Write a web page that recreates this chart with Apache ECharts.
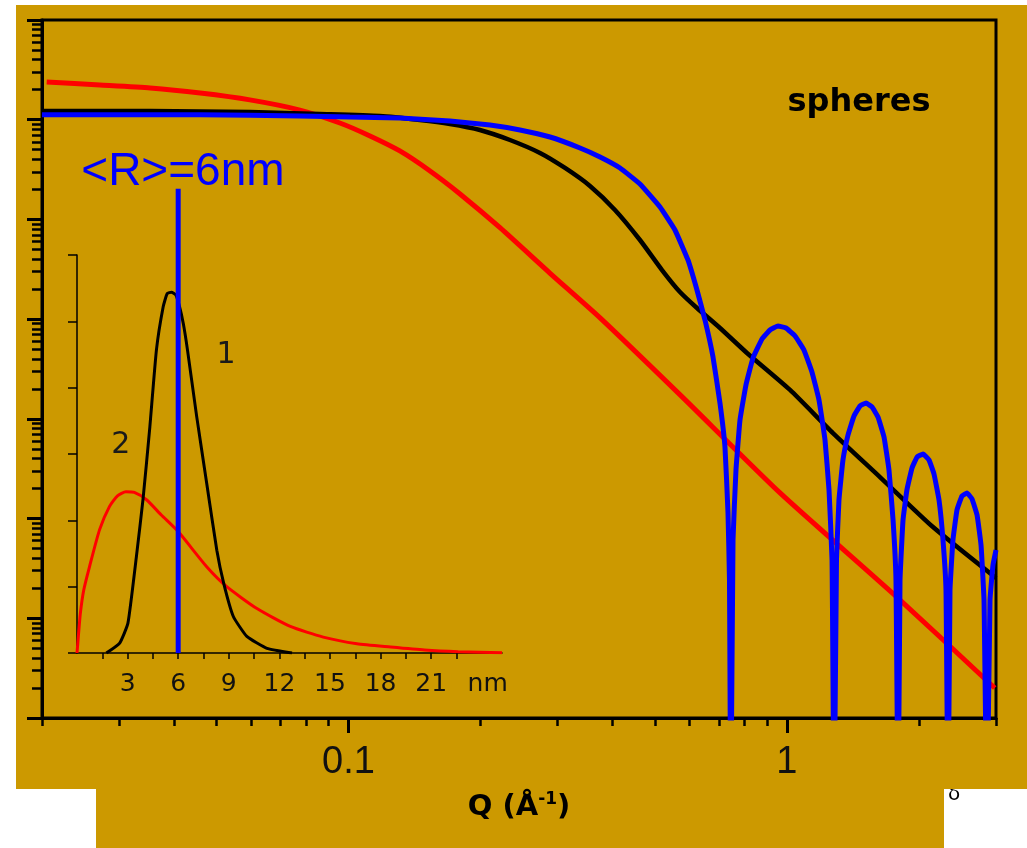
<!DOCTYPE html>
<html><head><meta charset="utf-8">
<script src="https://cdn.jsdelivr.net/npm/echarts@6/dist/echarts.min.js"></script>
<style>html,body{margin:0;padding:0;background:#fff;}#c{width:1027px;height:848px;}</style>
</head><body><div id="c"></div>
<script>
// ---- main scattering curves: [Q (1/Å), I(Q)] ----
const redCurve = [
  [0.0205, 2.39], [0.0271, 2.23], [0.0353, 2.08], [0.0459, 1.85], [0.0596, 1.58],
  [0.0775, 1.25], [0.0956, 0.927], [0.112, 0.687], [0.131, 0.486], [0.1535, 0.306],
  [0.1797, 0.180], [0.222, 0.0821], [0.288, 0.0290], [0.375, 0.0103], [0.571, 0.00174],
  [0.965, 0.000181], [1.78, 0.0000164], [2.98, 0.0000020]
];
const blackCurve = [
  [0.02, 1.224], [0.0353, 1.22], [0.0596, 1.196], [0.0861, 1.142], [0.118, 1.09],
  [0.1456, 0.994], [0.1705, 0.906], [0.1995, 0.789], [0.2336, 0.626], [0.2735, 0.464],
  [0.3119, 0.328], [0.3556, 0.2165], [0.4055, 0.1244], [0.4624, 0.0622], [0.5191, 0.0311],
  [0.5705, 0.01873], [0.6238, 0.01294], [0.7039, 0.00815], [0.811, 0.00458], [1.017, 0.00195],
  [1.274, 0.000721], [1.631, 0.000261], [2.155, 0.0000823], [3.0, 0.0000254]
];
const blueCurve = [
  [0.02, 1.12], [0.0459, 1.12], [0.0775, 1.09], [0.1008, 1.065], [0.1311, 1.041],
  [0.1705, 0.971], [0.2103, 0.885], [0.2462, 0.789], [0.2883, 0.671], [0.3375, 0.521],
  [0.3749, 0.423], [0.4164, 0.328], [0.4624, 0.2267], [0.5137, 0.1333], [0.5557, 0.0784],
  [0.5949, 0.0392], [0.6238, 0.0196], [0.6506, 0.0098], [0.6786, 0.00417], [0.7039, 0.00144],
  [0.7226, 0.000522], [0.7342, 0.000114], [0.7399, 0.0000242], [0.745, 1e-7],
  [0.7538, 0.000061], [0.7656, 0.000307], [0.7819, 0.000974], [0.8068, 0.00219], [0.8372, 0.00408],
  [0.8777, 0.00632], [0.9154, 0.00778], [0.9546, 0.00854], [0.9956, 0.00815], [1.044, 0.00678],
  [1.094, 0.00491], [1.141, 0.00295], [1.184, 0.001546], [1.222, 0.000614], [1.248, 0.0001935],
  [1.268, 0.0000384], [1.282, 1e-7],
  [1.298, 0.0000384], [1.315, 0.0001536], [1.343, 0.000387], [1.379, 0.000689], [1.423, 0.001069],
  [1.469, 0.001346], [1.516, 0.00144], [1.564, 0.001315], [1.614, 0.001044], [1.666, 0.000658],
  [1.710, 0.000307], [1.747, 0.0000967], [1.774, 0.0000242], [1.794, 1e-7],
  [1.812, 0.0000242], [1.841, 0.0000967], [1.879, 0.0001935], [1.930, 0.000322], [1.982, 0.000415],
  [2.045, 0.000444], [2.110, 0.000387], [2.166, 0.00028], [2.224, 0.0001536], [2.271, 0.000061],
  [2.307, 0.0000192], [2.332, 1e-7],
  [2.356, 0.0000192], [2.393, 0.000061], [2.444, 0.0001219], [2.509, 0.0001684], [2.576, 0.0001805],
  [2.645, 0.0001572], [2.716, 0.0001086], [2.773, 0.0000543], [2.817, 0.00001526], [2.86, 1e-7],
  [2.907, 0.00001526], [2.953, 0.0000342], [3.0, 0.0000484]
];
// ---- inset size distributions: [R (nm), P(R)] ----
const insetRed = [
  [0, 0], [0.08, 0.25], [0.2, 0.6], [0.4, 0.95], [0.74, 1.30], [1.34, 1.86], [1.93, 2.21],
  [2.4, 2.37], [2.9, 2.43], [3.4, 2.42], [4.12, 2.31], [5.0, 2.08], [6.0, 1.83], [7.69, 1.30],
  [8.88, 1.0], [10.67, 0.67], [12.65, 0.40], [14.6, 0.24], [16.6, 0.14], [18.6, 0.09],
  [20.6, 0.045], [22.6, 0.02], [25.2, 0.005]
];
const insetBlack = [
  [1.74, 0], [2.53, 0.15], [3.02, 0.45], [3.52, 1.45], [3.92, 2.33], [4.32, 3.41], [4.71, 4.57],
  [5.11, 5.22], [5.35, 5.42], [5.6, 5.44], [5.85, 5.4], [6.05, 5.25], [6.3, 4.97], [6.55, 4.57],
  [7.1, 3.56], [7.69, 2.56], [8.29, 1.55], [8.7, 1.05], [9.27, 0.55], [10.07, 0.25],
  [11.26, 0.07], [12.75, 0.0]
];
const meanRadius = [[6, 0], [6, 7]];
const meanLabel = ['<R>=6nm'];
const curveLabels = [['1', 8.84, 4.49], ['2', 2.59, 3.14]];
// ---- ticks ----
const xMajorTicks = [0.1, 1];
const xMinorTicks = [0.02, 0.03, 0.04, 0.05, 0.06, 0.07, 0.08, 0.09, 0.2, 0.3, 0.4, 0.5, 0.6, 0.7, 0.8, 0.9, 2, 3];
const yMajorTicks = [1e-6, 1e-5, 1e-4, 1e-3, 1e-2, 1e-1, 1, 10];
const yMinorTicks = [];
for (let d = -6; d < 1; d++) for (let m = 2; m <= 9; m++) yMinorTicks.push(+(m * Math.pow(10, d)).toPrecision(3));
const insetTicks = [1.5, 3, 4.5, 6, 7.5, 9, 10.5, 12, 13.5, 15, 16.5, 18, 19.5, 21, 22.5];
const insetLabels = [3, 6, 9, 12, 15, 18, 21];
const insetUnitAt = 24.35;

const GOLD = '#CC9900';
const ARIAL = "'Liberation Sans', Arial, sans-serif";
const DJ = "'DejaVu Sans', sans-serif";

const chart = echarts.init(document.getElementById('c'), null, {renderer: 'canvas'});
const option = {
  backgroundColor: '#ffffff',
  animation: false,
  graphic: [
    {type: 'text', x: 954, y: 795, z: -30, silent: true,
     style: {text: 'δ', fontSize: 20, fontFamily: DJ, fill: '#000', align: 'center', verticalAlign: 'middle'}},
    {type: 'rect', z: -20, silent: true, shape: {x: 16, y: 5, width: 1011, height: 784}, style: {fill: GOLD}},
    {type: 'rect', z: -20, silent: true, shape: {x: 96, y: 788, width: 848, height: 60}, style: {fill: GOLD}},
    {type: 'text', x: 859, y: 103, z: 10, silent: true,
     style: {text: 'spheres', fontSize: 32, fontWeight: 'bold', fontFamily: DJ, fill: '#000', align: 'center', verticalAlign: 'middle'}}
  ],
  grid: [
    {left: 42, top: 20, width: 954, height: 698, show: true, borderColor: '#000', borderWidth: 3, backgroundColor: 'transparent'},
    {left: 77, top: 255, width: 425, height: 398, show: false}
  ],
  xAxis: [
    {type: 'log', gridIndex: 0, min: 0.02, max: 3, logBase: 10, position: 'bottom',
     axisLine: {show: true, lineStyle: {color: '#000', width: 3}},
     axisTick: {show: true, customValues: xMajorTicks, length: 15, lineStyle: {color: '#000', width: 3}},
     axisLabel: {show: true, customValues: xMajorTicks, formatter: v => String(+v.toPrecision(3)),
       fontSize: 38, fontFamily: ARIAL, color: '#111', margin: 26},
     splitLine: {show: false}, minorTick: {show: false},
     name: '{b|Q (Å}{s|-1}{b|)}', nameLocation: 'middle', nameGap: 73,
     nameTextStyle: {rich: {
       b: {fontSize: 29, fontWeight: 'bold', fontFamily: DJ, color: '#000', lineHeight: 32},
       s: {fontSize: 17, fontWeight: 'bold', fontFamily: DJ, color: '#000', verticalAlign: 'top', lineHeight: 18}
     }}},
    {type: 'log', gridIndex: 0, min: 0.02, max: 3, logBase: 10, position: 'bottom',
     axisLine: {show: false},
     axisTick: {show: true, customValues: xMinorTicks, length: 8, lineStyle: {color: '#000', width: 2.5}},
     axisLabel: {show: false}, splitLine: {show: false}},
    {type: 'value', gridIndex: 1, min: 0, max: 25.2,
     axisLine: {show: true, onZero: false, lineStyle: {color: '#000', width: 1.5}},
     axisTick: {show: true, customValues: insetTicks, length: 6, lineStyle: {color: '#000', width: 1.5}},
     axisLabel: {show: true, customValues: insetLabels.concat([insetUnitAt]),
       formatter: v => (v > 23 ? 'nm' : String(v)), fontSize: 25, fontFamily: DJ, color: '#111', margin: 19},
     splitLine: {show: false}}
  ],
  yAxis: [
    {type: 'log', gridIndex: 0, min: 1e-6, max: 10, logBase: 10,
     axisLine: {show: true, lineStyle: {color: '#000', width: 3}},
     axisTick: {show: true, customValues: yMajorTicks, length: 15, lineStyle: {color: '#000', width: 3}},
     axisLabel: {show: false}, splitLine: {show: false}},
    {type: 'log', gridIndex: 0, min: 1e-6, max: 10, logBase: 10, position: 'left',
     axisLine: {show: false},
     axisTick: {show: true, customValues: yMinorTicks, length: 10, lineStyle: {color: '#000', width: 2.5}},
     axisLabel: {show: false}, splitLine: {show: false}},
    {type: 'value', gridIndex: 1, min: 0, max: 6, interval: 1,
     axisLine: {show: true, onZero: false, lineStyle: {color: '#000', width: 1.5}},
     axisTick: {show: true, length: 9, lineStyle: {color: '#000', width: 1.5}},
     axisLabel: {show: false}, splitLine: {show: false}}
  ],
  series: [
    {type: 'line', xAxisIndex: 0, yAxisIndex: 0, data: redCurve, showSymbol: false, symbol: 'none',
     smooth: 0.2, lineStyle: {color: '#FF0000', width: 5}, z: 3},
    {type: 'line', xAxisIndex: 0, yAxisIndex: 0, data: blackCurve, showSymbol: false, symbol: 'none',
     smooth: 0.2, lineStyle: {color: '#000000', width: 4.5}, z: 4},
    {type: 'line', xAxisIndex: 0, yAxisIndex: 0, data: blueCurve, showSymbol: false, symbol: 'none',
     smooth: 0.1, lineStyle: {color: '#0000FF', width: 5}, z: 5},
    {type: 'line', xAxisIndex: 2, yAxisIndex: 2, data: insetRed, showSymbol: false, symbol: 'none',
     smooth: 0.2, lineStyle: {color: '#FF0000', width: 3}, z: 6},
    {type: 'line', xAxisIndex: 2, yAxisIndex: 2, data: insetBlack, showSymbol: false, symbol: 'none',
     smooth: 0.15, lineStyle: {color: '#000000', width: 3}, z: 7},
    {type: 'line', xAxisIndex: 2, yAxisIndex: 2, data: meanRadius, showSymbol: false, symbol: 'none',
     clip: false, lineStyle: {color: '#0000FF', width: 5}, z: 8},
    {type: 'scatter', xAxisIndex: 2, yAxisIndex: 2, clip: false, symbolSize: 0, z: 9,
     itemStyle: {opacity: 1},
     data: [[6.28, 7.25, meanLabel[0]]],
     label: {show: true, position: 'inside', formatter: p => p.data[2], fontSize: 46, fontFamily: ARIAL,
       color: '#0000FF', opacity: 1, textBorderWidth: 0, textShadowBlur: 0}},
    {type: 'scatter', xAxisIndex: 2, yAxisIndex: 2, clip: false, symbolSize: 0, z: 9,
     itemStyle: {opacity: 1},
     data: curveLabels.map(c => [c[1], c[2], c[0]]),
     label: {show: true, position: 'inside', formatter: p => p.data[2], fontSize: 30, fontFamily: DJ,
       color: '#1a1a1a', opacity: 1, textBorderWidth: 0, textShadowBlur: 0}}
  ]
};
chart.setOption(option);
</script></body></html>
